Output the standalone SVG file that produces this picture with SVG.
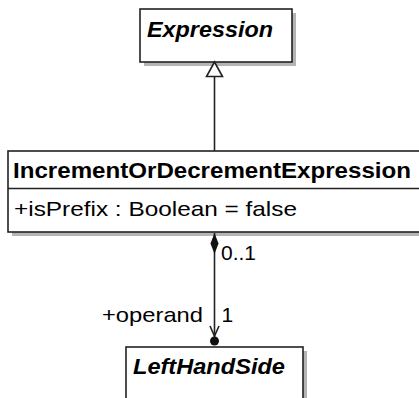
<svg xmlns="http://www.w3.org/2000/svg" width="419" height="398" viewBox="0 0 419 398">
<style>
.box{fill:#fff;stroke:#222;stroke-width:1.6}
.shadow{fill:#b4b4b4}
.t{font-family:"Liberation Sans",Arial,sans-serif;font-size:21px;fill:#000}
.b{font-weight:bold;font-size:22px}
.i{font-style:italic}
.ln{stroke:#222;stroke-width:1.6;fill:none}
</style>
<rect x="0" y="0" width="419" height="398" fill="#fff"/>
<g id="Expression">
<rect class="shadow" x="144" y="13" width="152" height="53"/>
<rect class="box" x="140" y="9" width="152" height="53"/>
<text class="t b i" x="147" y="37" textLength="126" lengthAdjust="spacingAndGlyphs">Expression</text>
</g>
<g id="IncrementOrDecrementExpression">
<rect class="shadow" x="12" y="155" width="412" height="81"/>
<rect class="box" x="8" y="151" width="415" height="81"/>
<line class="ln" x1="8" y1="188.5" x2="423" y2="188.5"/>
<text class="t b" x="13" y="177.5" textLength="398" lengthAdjust="spacingAndGlyphs">IncrementOrDecrementExpression</text>
<text class="t" x="14" y="216" textLength="283" lengthAdjust="spacingAndGlyphs">+isPrefix : Boolean = false</text>
</g>
<g id="LeftHandSide">
<rect class="shadow" x="130" y="351" width="177" height="60"/>
<rect class="box" x="126" y="347" width="177" height="60"/>
<text class="t b i" x="133" y="374" textLength="152" lengthAdjust="spacingAndGlyphs">LeftHandSide</text>
</g>
<g id="connectors">
<line class="ln" x1="214.5" y1="76.5" x2="214.5" y2="151"/>
<polygon points="214.5,62 206.5,76.5 222.5,76.5" fill="#fff" stroke="#222" stroke-width="1.6"/>
<line class="ln" x1="214.5" y1="233" x2="214.5" y2="342"/>
<polygon points="214.5,233 218.5,243.5 214.5,254 210.5,243.5" fill="#111"/>
<polyline class="ln" points="210,326 214.5,336 219,326"/>
<circle cx="214.5" cy="341" r="4.5" fill="#111"/>
<text class="t" x="221" y="260" textLength="35" lengthAdjust="spacingAndGlyphs">0..1</text>
<text class="t" x="102" y="322" textLength="101" lengthAdjust="spacingAndGlyphs">+operand</text>
<text class="t" x="221.5" y="322">1</text>
</g>
</svg>
